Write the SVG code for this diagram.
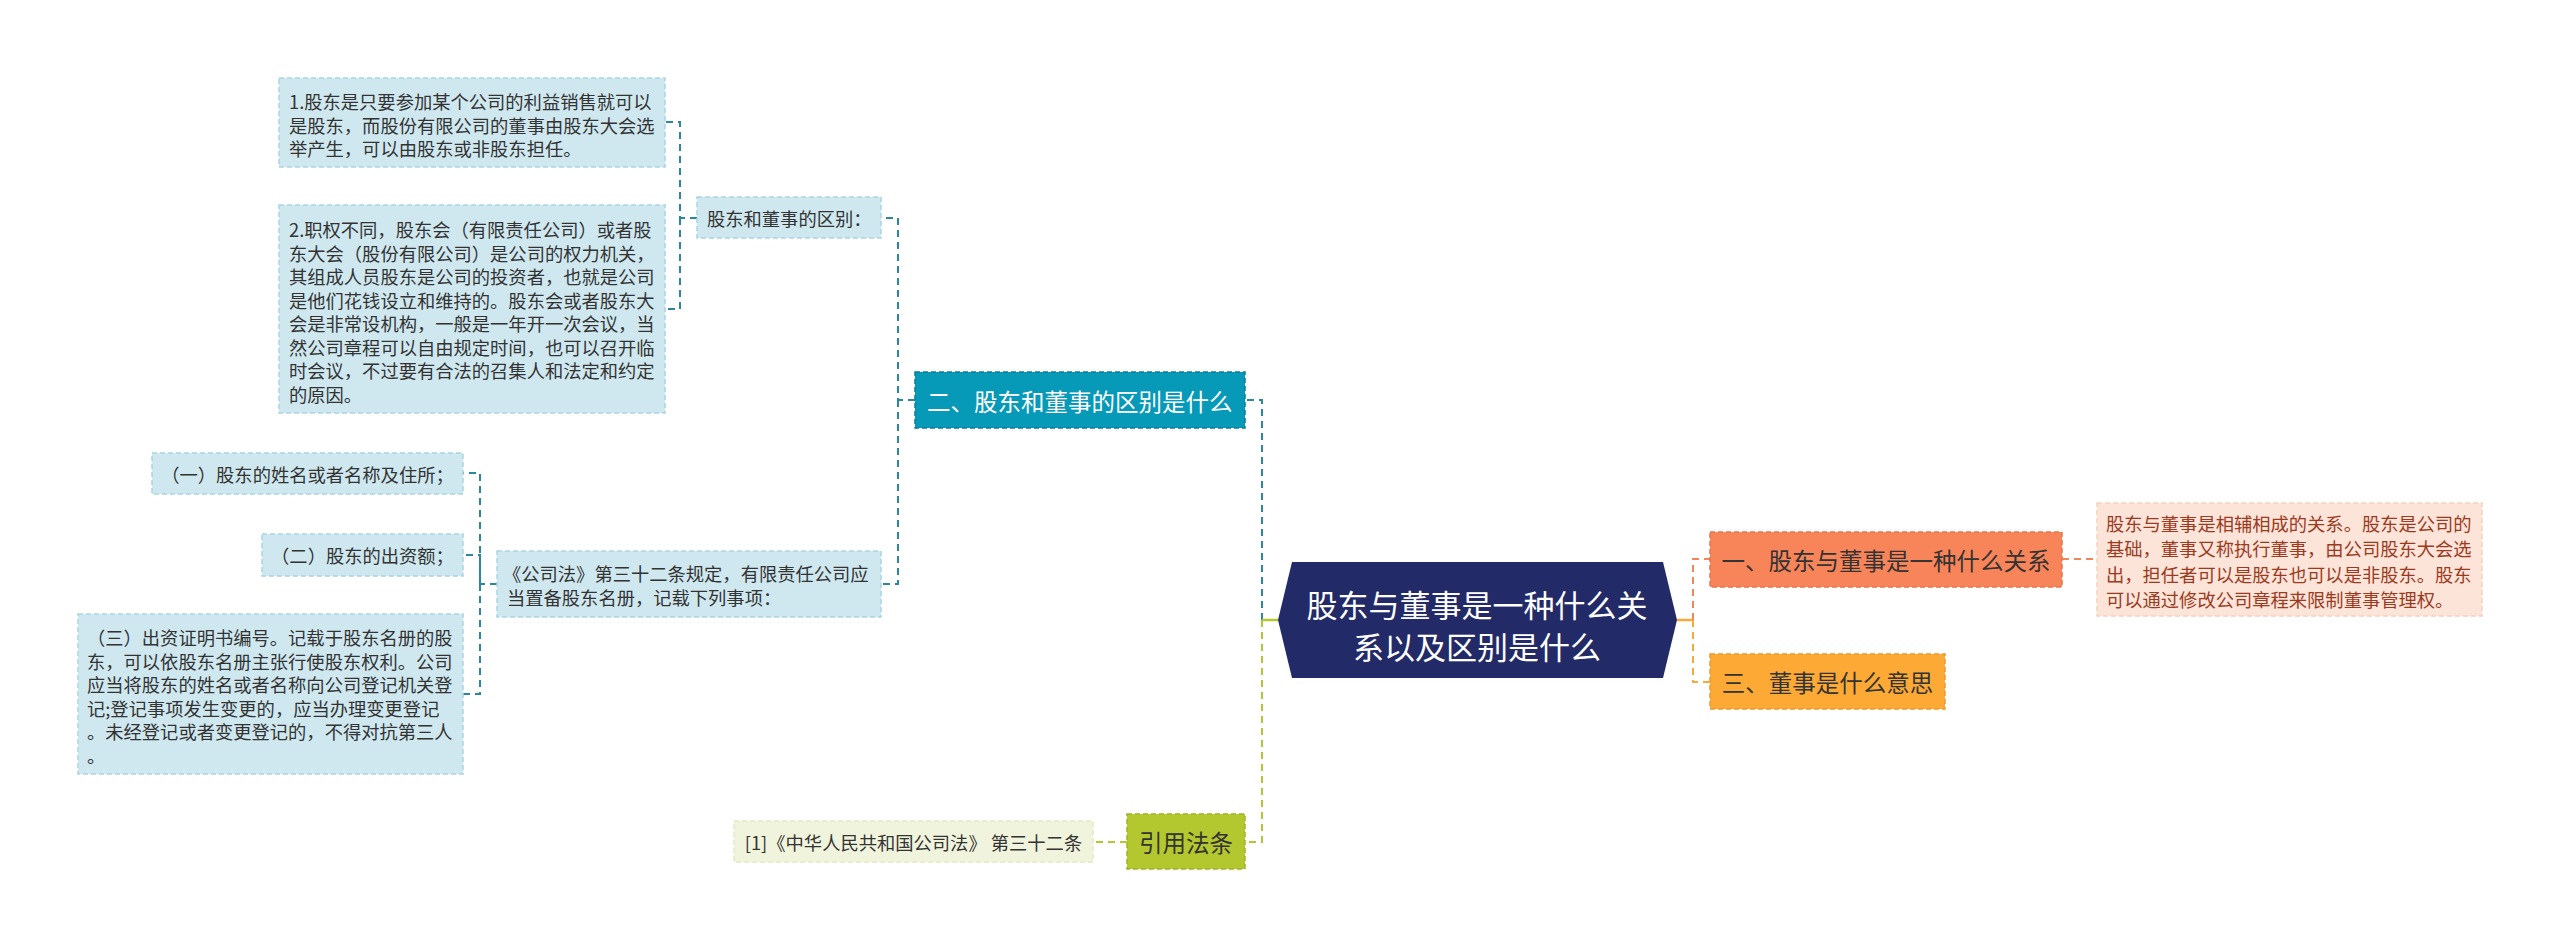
<svg xmlns="http://www.w3.org/2000/svg" width="2560" height="947" viewBox="0 0 2560 947">
<style>
text{font-family:"Noto Sans CJK SC","Noto Sans",sans-serif;dominant-baseline:central}
.t{font-size:18.3px;fill:#333}
.lb{fill:#cfe8f0;stroke:#a8d4e3;stroke-width:1.5;stroke-dasharray:5 3}
.c{fill:none;stroke-width:2;stroke-dasharray:7 5}
.cb{stroke:#2b86a0}
.cg{stroke:#b3c72e}
.co{stroke:#f3855a}
.cy{stroke:#f9a93a}
</style>
<rect width="2560" height="947" fill="#ffffff"/>
<g id="connectors">
<path class="c cb" d="M1262,620 V400 H1245"/>
<path class="c cg" d="M1262,620 V842 H1245"/>
<path d="M1278,620 H1262" stroke="#b3c72e" stroke-width="2.5" fill="none"/>
<path class="c cb" d="M915,400 H898 V218 H881"/>
<path class="c cb" d="M898,400 V584 H881"/>
<path class="c cb" d="M697,218 H680 V122 H665"/>
<path class="c cb" d="M680,218 V309 H665"/>
<path class="c cb" d="M497,584 H480 V473 H463"/>
<path class="c cb" d="M480,584 V555 H463"/>
<path class="c cb" d="M480,584 V694 H463"/>
<path d="M1677,620 H1693" stroke="#f9a93a" stroke-width="2.5" fill="none"/>
<path class="c co" d="M1693,620 V559 H1710"/>
<path class="c cy" d="M1693,620 V682 H1710"/>
<path class="c co" d="M2062,559 H2097"/>
<path class="c cg" d="M1127,842 H1093"/>
</g>
<g id="root">
<polygon points="1278,620 1292,562 1663,562 1677,620 1663,678 1292,678" fill="#222a68"/>
<text x="1477" y="603" font-size="31" fill="#ffffff" text-anchor="middle">股东与董事是一种什么关</text>
<text x="1477" y="645" font-size="31" fill="#ffffff" text-anchor="middle">系以及区别是什么</text>
</g>
<g id="n2">
<rect x="915" y="372" width="330" height="56" fill="#0799b8" stroke="#077f9a" stroke-width="1.5" stroke-dasharray="5 3"/>
<text x="927" y="401" font-size="23.5" fill="#ffffff">二、股东和董事的区别是什么</text>
</g>
<g id="n2a">
<rect class="lb" x="697" y="197" width="184" height="41"/>
<text class="t" x="707" y="218">股东和董事的区别：</text>
</g>
<g id="n2a1">
<rect class="lb" x="279" y="78" width="386" height="89"/>
<text class="t" x="289" y="101">1.股东是只要参加某个公司的利益销售就可以</text>
<text class="t" x="289" y="124.5">是股东，而股份有限公司的董事由股东大会选</text>
<text class="t" x="289" y="148">举产生，可以由股东或非股东担任。</text>
</g>
<g id="n2a2">
<rect class="lb" x="279" y="205" width="386" height="208"/>
<text class="t" x="289" y="229">2.职权不同，股东会（有限责任公司）或者股</text>
<text class="t" x="289" y="252.5">东大会（股份有限公司）是公司的权力机关，</text>
<text class="t" x="289" y="276">其组成人员股东是公司的投资者，也就是公司</text>
<text class="t" x="289" y="299.5">是他们花钱设立和维持的。股东会或者股东大</text>
<text class="t" x="289" y="323">会是非常设机构，一般是一年开一次会议，当</text>
<text class="t" x="289" y="346.5">然公司章程可以自由规定时间，也可以召开临</text>
<text class="t" x="289" y="370">时会议，不过要有合法的召集人和法定和约定</text>
<text class="t" x="289" y="393.5">的原因。</text>
</g>
<g id="n2b">
<rect class="lb" x="497" y="551" width="384" height="66"/>
<text class="t" x="503" y="573">《公司法》第三十二条规定，有限责任公司应</text>
<text class="t" x="507" y="597">当置备股东名册，记载下列事项：</text>
</g>
<g id="n2b1">
<rect class="lb" x="152" y="453" width="311" height="41"/>
<text class="t" x="307.5" y="473.5" text-anchor="middle">（一）股东的姓名或者名称及住所；</text>
</g>
<g id="n2b2">
<rect class="lb" x="262" y="534" width="201" height="42"/>
<text class="t" x="362.5" y="555" text-anchor="middle">（二）股东的出资额；</text>
</g>
<g id="n2b3">
<rect class="lb" x="78" y="614" width="385" height="160"/>
<text class="t" x="87" y="637">（三）出资证明书编号。记载于股东名册的股</text>
<text class="t" x="87" y="660.6">东，可以依股东名册主张行使股东权利。公司</text>
<text class="t" x="87" y="684.2">应当将股东的姓名或者名称向公司登记机关登</text>
<text class="t" x="87" y="707.8">记;登记事项发生变更的，应当办理变更登记</text>
<text class="t" x="87" y="731.4">。未经登记或者变更登记的，不得对抗第三人</text>
<text class="t" x="87" y="755">。</text>
</g>
<g id="n4">
<rect x="1127" y="814" width="118" height="55" fill="#b3c72e" stroke="#a0b426" stroke-width="1.5" stroke-dasharray="5 3"/>
<text x="1186" y="842" font-size="23.5" fill="#333" text-anchor="middle">引用法条</text>
</g>
<g id="n4a">
<rect x="734" y="821" width="359" height="41" fill="#f1f4dc" stroke="#e3e9c2" stroke-width="1.5" stroke-dasharray="5 3"/>
<text class="t" x="913.5" y="842" text-anchor="middle" fill="#444">[1]《中华人民共和国公司法》 第三十二条</text>
</g>
<g id="n1">
<rect x="1710" y="532" width="352" height="55" fill="#f8845a" stroke="#e8744c" stroke-width="1.5" stroke-dasharray="5 3"/>
<text x="1886" y="560" font-size="23.5" fill="#333" text-anchor="middle">一、股东与董事是一种什么关系</text>
</g>
<g id="n1a">
<rect x="2097" y="503" width="385" height="113" fill="#fde4d9" stroke="#f6d0bf" stroke-width="1.5" stroke-dasharray="5 3"/>
<text class="t" x="2106" y="523" fill="#9b3a1e" style="fill:#9b3a1e">股东与董事是相辅相成的关系。股东是公司的</text>
<text class="t" x="2106" y="548" style="fill:#9b3a1e">基础，董事又称执行董事，由公司股东大会选</text>
<text class="t" x="2106" y="573.5" style="fill:#9b3a1e">出，担任者可以是股东也可以是非股东。股东</text>
<text class="t" x="2106" y="598.5" style="fill:#9b3a1e">可以通过修改公司章程来限制董事管理权。</text>
</g>
<g id="n3">
<rect x="1710" y="654" width="235" height="55" fill="#fca935" stroke="#ef9a28" stroke-width="1.5" stroke-dasharray="5 3"/>
<text x="1827.5" y="682" font-size="23.5" fill="#333" text-anchor="middle">三、董事是什么意思</text>
</g>
</svg>
